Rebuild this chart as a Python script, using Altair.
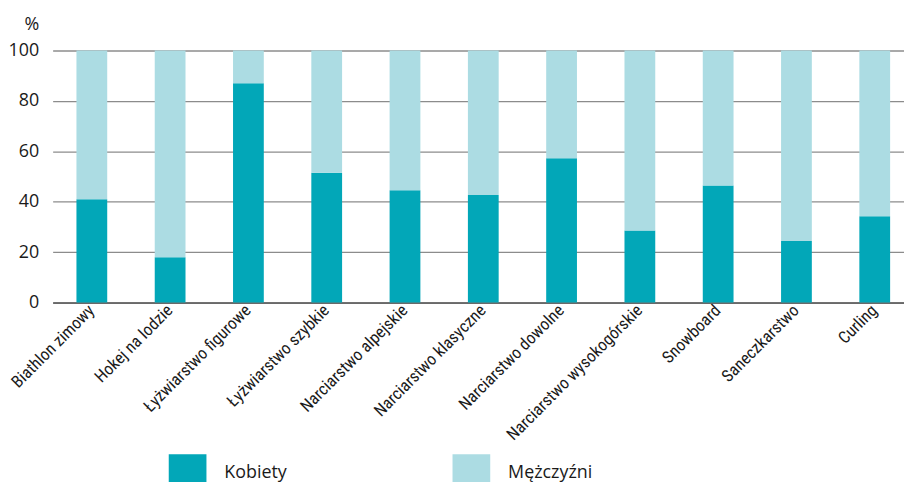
import altair as alt
import pandas as pd

categories = [
    "Biathlon zimowy", "Hokej na lodzie", "Łyżwiarstwo figurowe",
    "Łyżwiarstwo szybkie", "Narciarstwo alpejskie", "Narciarstwo klasyczne",
    "Narciarstwo dowolne", "Narciarstwo wysokogórskie", "Snowboard",
    "Saneczkarstwo", "Curling",
]
kobiety = [41, 18, 87, 51.5, 44.6, 42.7, 57.3, 28.6, 46.4, 24.4, 34.2]
mezczyzni = [round(100 - v, 1) for v in kobiety]
series = ["Kobiety", "Mężczyźni"]
colors = ["#02a7b8", "#acdce3"]
y_ticks = [0, 20, 40, 60, 80, 100]

rows = []
for c, k, m in zip(categories, kobiety, mezczyzni):
    rows.append({"kat": c, "plec": series[0], "val": k, "ord": 0})
    rows.append({"kat": c, "plec": series[1], "val": m, "ord": 1})
df = pd.DataFrame(rows)

font = "Open Sans"
label_font = "Roboto Condensed, DejaVu Sans Condensed, Liberation Sans Narrow, Arial Narrow, Roboto, sans-serif"

chart = alt.Chart(df).mark_bar().encode(
    x=alt.X("kat:N", sort=categories,
            scale=alt.Scale(paddingInner=0.607, paddingOuter=0.304),
            axis=alt.Axis(title=None, labelAngle=-45, labelAlign="right",
                          labelBaseline="middle", ticks=False, labelPadding=5,
                          labelFont=label_font, labelFontSize=17,
                          labelColor="#1a1a1a", domainColor="#555555",
                          domainWidth=1.5, labelLimit=300)),
    y=alt.Y("val:Q", stack="zero", scale=alt.Scale(domain=[0, 100]),
            axis=alt.Axis(values=y_ticks, title="%", titleAngle=0,
                          titleX=-14, titleY=-26, titleAlign="right",
                          titleBaseline="middle", titleFont=font,
                          titleFontSize=18, titleFontWeight="normal",
                          titleColor="#1a1a1a",
                          labelFont=font, labelFontSize=18,
                          labelColor="#1a1a1a", labelPadding=14,
                          ticks=False, domain=False, grid=True,
                          gridColor="#8c8c8c", gridWidth=1.3)),
    color=alt.Color("plec:N", sort=series,
                    scale=alt.Scale(domain=series, range=colors),
                    legend=alt.Legend(title=None, orient="none",
                                      direction="horizontal",
                                      legendX=117, legendY=407,
                                      symbolType="square", symbolSize=1444,
                                      symbolStrokeWidth=0, symbolOpacity=1,
                                      labelFont=font, labelFontSize=18,
                                      labelColor="#1a1a1a", labelOffset=18,
                                      columnPadding=167)),
    order=alt.Order("ord:Q", sort="ascending"),
).properties(
    width=868, height=254,
    autosize=alt.AutoSizeParams(type="none"),
    padding={"left": 45, "top": 41, "right": -10, "bottom": 179},
).configure_view(stroke=None)

chart.save("out.html", embed_options={"renderer": "svg", "actions": False})
